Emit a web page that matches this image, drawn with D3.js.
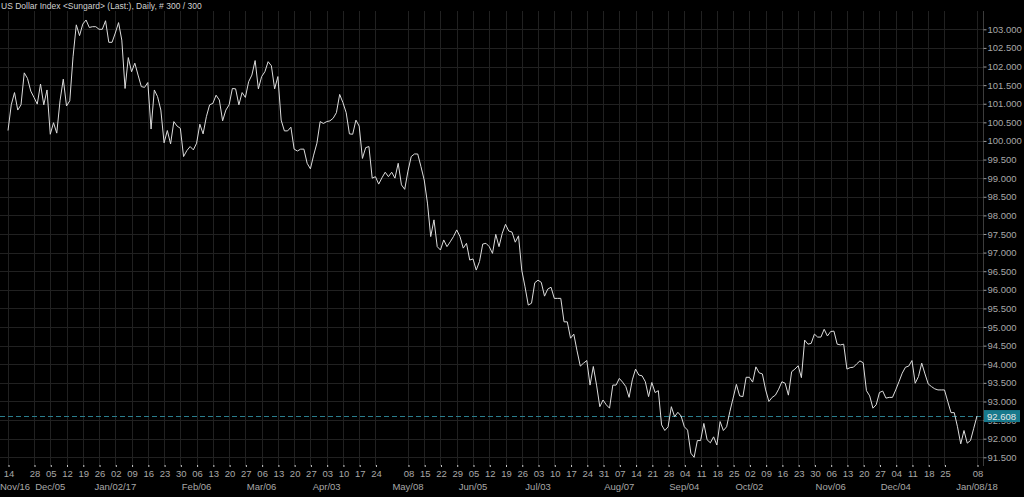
<!DOCTYPE html>
<html>
<head>
<meta charset="utf-8">
<script src="https://cdn.jsdelivr.net/npm/d3@7"></script>
<style>
    body { margin: 0; background: #000; }
    svg { display: block; font-family: "Liberation Sans", Arial, sans-serif; }
</style>
</head>
<body>
<div id="chart"></div>
<script>
// chart title
var titleText = 'US Dollar Index <Sungard> (Last:), Daily, # 300 / 300';

// trading days: weekdays between these, minus the missing ones
var firstDay = '2016-11-14';
var lastDay = '2018-01-08';
var missingDays = ['2016-11-21', '2016-11-24'];

// daily closes
var closeValues = [
    100.28, 100.97, 101.30, 100.83, 100.97, 101.83, 101.68, 101.34, 101.17, 100.99,
    101.53, 100.97, 101.37, 100.18, 100.49, 100.21, 101.08, 101.66, 100.94, 101.08,
    102.26, 103.12, 102.83, 103.14, 103.25, 103.05, 103.07, 103.07, 103.00, 103.00,
    103.23, 102.65, 102.65, 102.90, 103.18, 102.71, 101.41, 102.24, 101.86, 102.09,
    101.77, 101.46, 101.44, 101.57, 100.32, 101.37, 101.19, 100.83, 99.95, 100.28,
    99.92, 100.52, 100.40, 100.34, 99.58, 99.74, 99.85, 99.76, 99.94, 100.45,
    100.19, 100.65, 100.97, 101.01, 101.23, 101.10, 100.54, 100.83, 100.97, 101.41,
    101.40, 100.97, 101.30, 101.17, 101.59, 101.77, 102.16, 101.40, 101.73, 101.86,
    102.13, 102.02, 101.40, 101.73, 100.56, 100.27, 100.27, 100.37, 99.78, 99.73,
    99.78, 99.78, 99.40, 99.25, 99.62, 99.94, 100.52, 100.47, 100.52, 100.54,
    100.61, 100.76, 101.25, 101.03, 100.76, 100.19, 100.18, 100.56, 100.40, 99.53,
    99.82, 99.85, 99.00, 99.04, 98.84, 99.01, 99.16, 99.04, 99.16, 99.00,
    99.40, 98.82, 98.70, 99.19, 99.58, 99.65, 99.65, 99.31, 98.95, 98.33,
    97.43, 97.88, 97.16, 97.07, 97.34, 97.16, 97.29, 97.43, 97.61, 97.43,
    97.12, 97.25, 96.80, 96.83, 96.53, 96.76, 97.23, 97.25, 97.16, 96.98,
    97.49, 97.16, 97.52, 97.76, 97.58, 97.55, 97.28, 97.45, 96.53, 96.08,
    95.59, 95.64, 96.19, 96.26, 96.20, 95.83, 96.02, 96.07, 95.77, 95.77,
    95.77, 95.14, 95.14, 94.70, 94.81, 94.36, 93.95, 94.03, 94.10, 93.44,
    93.94, 93.44, 92.86, 93.04, 92.91, 92.82, 93.44, 93.44, 93.62, 93.52,
    93.40, 93.11, 93.58, 93.87, 93.71, 93.69, 93.53, 93.13, 93.51, 93.24,
    93.29, 92.37, 92.22, 92.32, 92.86, 92.59, 92.71, 92.61, 92.32, 92.23,
    91.61, 91.50, 91.95, 91.95, 92.41, 91.97, 91.89, 92.05, 91.83, 92.46,
    92.22, 92.32, 92.73, 93.09, 93.46, 93.15, 93.13, 93.65, 93.65, 93.52,
    93.93, 93.77, 93.74, 93.31, 93.00, 93.11, 93.17, 93.33, 93.53, 93.49,
    93.17, 93.80, 93.87, 93.96, 93.64, 94.65, 94.54, 94.56, 94.81, 94.73,
    94.73, 94.94, 94.76, 94.88, 94.89, 94.54, 94.52, 94.54, 93.87, 93.91,
    93.92, 94.01, 94.09, 94.04, 93.29, 93.15, 92.82, 92.91, 93.24, 93.28,
    93.09, 93.11, 93.11, 93.31, 93.53, 93.76, 93.92, 93.95, 94.10, 93.49,
    93.67, 94.03, 93.74, 93.47, 93.40, 93.34, 93.31, 93.31, 93.31, 93.00,
    92.70, 92.70, 92.32, 91.86, 92.22, 91.88, 91.95, 92.28, 92.608
];
var lastValue = 92.608;

// weekly tick dates on the bottom axis
var dayTicks = [
    '2016-11-14', '2016-11-28', '2016-12-05', '2016-12-12', '2016-12-19', '2016-12-26',
    '2017-01-02', '2017-01-09', '2017-01-16', '2017-01-23', '2017-01-30',
    '2017-02-06', '2017-02-13', '2017-02-20', '2017-02-27',
    '2017-03-06', '2017-03-13', '2017-03-20', '2017-03-27',
    '2017-04-03', '2017-04-10', '2017-04-17', '2017-04-24',
    '2017-05-08', '2017-05-15', '2017-05-22', '2017-05-29',
    '2017-06-05', '2017-06-12', '2017-06-19', '2017-06-26',
    '2017-07-03', '2017-07-10', '2017-07-17', '2017-07-24', '2017-07-31',
    '2017-08-07', '2017-08-14', '2017-08-21', '2017-08-28',
    '2017-09-04', '2017-09-11', '2017-09-18', '2017-09-25',
    '2017-10-02', '2017-10-09', '2017-10-16', '2017-10-23', '2017-10-30',
    '2017-11-06', '2017-11-13', '2017-11-20', '2017-11-27',
    '2017-12-04', '2017-12-11', '2017-12-18', '2017-12-25',
    '2018-01-08'
];

// month labels under the day ticks
var monthTicks = [
    '2016-11-14', '2016-12-05', '2017-01-02', '2017-02-06', '2017-03-06', '2017-04-03',
    '2017-05-08', '2017-06-05', '2017-07-03', '2017-08-07', '2017-09-04', '2017-10-02',
    '2017-11-06', '2017-12-04', '2018-01-08'
];
var monthNames = [
    'Nov/16', 'Dec/05', 'Jan/02/17', 'Feb/06', 'Mar/06', 'Apr/03',
    'May/08', 'Jun/05', 'Jul/03', 'Aug/07', 'Sep/04', 'Oct/02',
    'Nov/06', 'Dec/04', 'Jan/08/18'
];

// price ticks on the right
var priceTicks = [
    91.5, 92.0, 92.5, 93.0, 93.5, 94.0, 94.5, 95.0, 95.5, 96.0, 96.5, 97.0,
    97.5, 98.0, 98.5, 99.0, 99.5, 100.0, 100.5, 101.0, 101.5, 102.0, 102.5, 103.0
];

// svg setup
var svgWidth = 1024;
var svgHeight = 497;
var plot = { left: 0, right: 983, top: 11, bottom: 466 };

var svg = d3.select('#chart')
    .append('svg')
    .attr('width', svgWidth)
    .attr('height', svgHeight);

svg.append('rect')
    .attr('width', svgWidth)
    .attr('height', svgHeight)
    .attr('fill', '#000');

// build the trading day list
var fmt = d3.timeFormat('%Y-%m-%d');
var parse = d3.timeParse('%Y-%m-%d');
var dates = d3.timeDay.range(parse(firstDay), d3.timeDay.offset(parse(lastDay), 1))
    .filter(d => d.getDay() > 0 && d.getDay() < 6)
    .map(fmt)
    .filter(d => missingDays.indexOf(d) < 0);

if (dates.length !== closeValues.length) console.log('length mismatch', dates.length, closeValues.length);

var series = closeValues.map((v, i) => ({ i: i, date: dates[i], value: v }));

// scales
var xScale = d3.scaleLinear()
    .domain([0, closeValues.length - 1])
    .range([8, 977]);

var yScale = d3.scaleLinear()
    .domain([91.5, 103])
    .range([457.3, 29.3]);

var tickIndex = dayTicks.map(d => dates.indexOf(d));

// grid
var grid = svg.append('g').attr('stroke', '#212121').attr('stroke-width', 1);

grid.selectAll('.hgrid')
    .data(priceTicks)
    .enter()
    .append('line')
    .attr('x1', plot.left)
    .attr('x2', plot.right)
    .attr('y1', d => Math.round(yScale(d)) + 0.5)
    .attr('y2', d => Math.round(yScale(d)) + 0.5);

grid.selectAll('.vgrid')
    .data(tickIndex)
    .enter()
    .append('line')
    .attr('x1', d => Math.round(xScale(d)) + 0.5)
    .attr('x2', d => Math.round(xScale(d)) + 0.5)
    .attr('y1', plot.top)
    .attr('y2', plot.bottom);

// right axis
var rightAxis = d3.axisRight(yScale)
    .tickValues(priceTicks)
    .tickSize(3)
    .tickPadding(1)
    .tickFormat(d3.format('.3f'));

var yAxisG = svg.append('g')
    .attr('transform', `translate(${plot.right + 0.5}, 0)`)
    .call(rightAxis);

yAxisG.select('.domain')
    .attr('stroke', '#3c3c3c')
    .attr('d', `M0,${plot.top}V${plot.bottom}`);
yAxisG.selectAll('.tick line').attr('stroke', '#9a9a9a');
yAxisG.selectAll('.tick text')
    .attr('fill', '#a8a8a8')
    .attr('font-size', '9.5px')
    .attr('font-family', '"Liberation Sans", Arial, sans-serif');

// bottom axis with day numbers
var bottomAxis = d3.axisBottom(xScale)
    .tickValues(tickIndex)
    .tickSize(2)
    .tickPadding(3)
    .tickFormat(i => dates[i].slice(8));

var xAxisG = svg.append('g')
    .attr('transform', `translate(0.5, ${plot.bottom - 1})`)
    .call(bottomAxis);

xAxisG.select('.domain').remove();
xAxisG.selectAll('.tick line').attr('stroke', '#c8c8c8');
xAxisG.selectAll('.tick text')
    .attr('fill', '#a8a8a8')
    .attr('font-size', '9.5px')
    .attr('font-family', '"Liberation Sans", Arial, sans-serif');

// month labels
var monthText = svg.append('g')
    .selectAll('text')
    .data(monthTicks)
    .enter()
    .append('text')
    .attr('x', d => xScale(dates.indexOf(d)))
    .attr('y', 489.5)
    .attr('text-anchor', 'middle')
    .attr('fill', '#a8a8a8')
    .attr('font-size', '9.5px')
    .text((d, i) => monthNames[i]);

// keep the first label inside the chart
monthText.each(function() {
    var box = this.getBBox();
    if (box.x < 0) {
        d3.select(this).attr('text-anchor', 'start').attr('x', 0);
    }
});

// last value dashed line
svg.append('line')
    .attr('x1', plot.left)
    .attr('x2', plot.right)
    .attr('y1', Math.round(yScale(lastValue)) + 0.5)
    .attr('y2', Math.round(yScale(lastValue)) + 0.5)
    .attr('stroke', '#2a7d8c')
    .attr('stroke-dasharray', '5,3');

// price line
var line = d3.line()
    .x(d => xScale(d.i))
    .y(d => yScale(d.value));

svg.append('path')
    .datum(series)
    .attr('d', line)
    .attr('fill', 'none')
    .attr('stroke', '#dcdcdc')
    .attr('stroke-width', 1)
    .attr('stroke-linejoin', 'round');

// last value tag
var tagY = yScale(lastValue);
svg.append('rect')
    .attr('x', plot.right + 1)
    .attr('y', tagY - 6)
    .attr('width', 36)
    .attr('height', 12)
    .attr('fill', '#17798c');

svg.append('text')
    .attr('x', plot.right + 4)
    .attr('y', tagY + 3.5)
    .attr('fill', '#e8e8e8')
    .attr('font-size', '9.5px')
    .text(d3.format('.3f')(lastValue));

// title
svg.append('text')
    .attr('x', 1)
    .attr('y', 9)
    .attr('fill', '#d2d2d2')
    .attr('font-size', '8.5px')
    .text(titleText);
</script>
</body>
</html>
